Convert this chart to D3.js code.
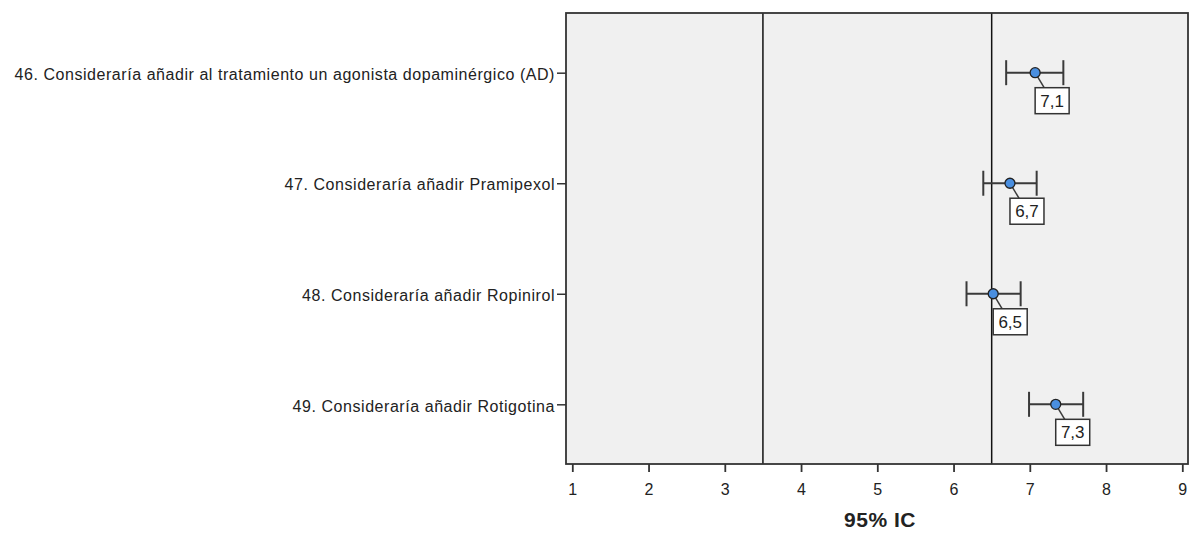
<!DOCTYPE html>
<html>
<head>
<meta charset="utf-8">
<script src="https://cdn.jsdelivr.net/npm/d3@7/dist/d3.min.js"></script>
<style>
  html, body { margin: 0; padding: 0; background: #ffffff; }
  svg { display: block; font-family: "Liberation Sans", Arial, sans-serif; }
</style>
</head>
<body>
<svg id="chart" width="1192" height="533"></svg>
<script>
// Items (one row each)
const categories = [
  "46. Consideraría añadir al tratamiento un agonista dopaminérgico (AD)",
  "47. Consideraría añadir Pramipexol",
  "48. Consideraría añadir Ropinirol",
  "49. Consideraría añadir Rotigotina"
];
// Means and 95% confidence limits
const means = [7.07, 6.74, 6.52, 7.34];
const lower = [6.69, 6.39, 6.17, 6.99];
const upper = [7.44, 7.09, 6.88, 7.70];
// Reference lines on the scale
const refLines = [3.5, 6.5];
const xTicks = [1, 2, 3, 4, 5, 6, 7, 8, 9];
const xTitle = "95% IC";

const rows = categories.map((c, i) => ({
  cat: c, mean: means[i], lo: lower[i], hi: upper[i]
}));

const svg = d3.select("#chart");
const box = { left: 566, right: 1188, top: 13, bottom: 464 };

const x = d3.scaleLinear().domain([1, 9]).range([572.3, 1182.3]);
const y = d3.scalePoint().domain(categories).range([box.top, box.bottom]).padding(0.54);

// Plot area
svg.append("rect")
  .attr("x", box.left).attr("y", box.top)
  .attr("width", box.right - box.left).attr("height", box.bottom - box.top)
  .attr("fill", "#f0f0f0");

// Reference lines
svg.selectAll("line.ref").data(refLines).join("line")
  .attr("class", "ref")
  .attr("x1", d => x(d)).attr("x2", d => x(d))
  .attr("y1", box.top).attr("y2", box.bottom)
  .attr("stroke", "#111").attr("stroke-width", 1.5);

// Frame
svg.append("rect")
  .attr("x", box.left).attr("y", box.top)
  .attr("width", box.right - box.left).attr("height", box.bottom - box.top)
  .attr("fill", "none").attr("stroke", "#333").attr("stroke-width", 1.8);

// Bottom axis
const xAxis = d3.axisBottom(x).tickValues(xTicks).tickSize(8).tickPadding(12).tickFormat(d3.format("d"));
const gx = svg.append("g").attr("transform", `translate(0,${box.bottom})`).call(xAxis);
gx.select(".domain").remove();
gx.selectAll(".tick line").attr("stroke", "#333").attr("stroke-width", 1.8);
gx.selectAll(".tick text").attr("fill", "#222").attr("font-size", 16)
  .attr("font-family", "Liberation Sans, Arial, sans-serif");

svg.append("text")
  .attr("x", (box.left + box.right) / 2 + 3).attr("y", 527)
  .attr("text-anchor", "middle")
  .attr("font-size", 21).attr("font-weight", "bold").attr("fill", "#222")
  .attr("letter-spacing", 0.5)
  .text(xTitle);

// Left axis (category labels)
const yAxis = d3.axisLeft(y).tickSize(9).tickPadding(2);
const gy = svg.append("g").attr("transform", `translate(${box.left},0)`).call(yAxis);
gy.select(".domain").remove();
gy.selectAll(".tick line").attr("stroke", "#333").attr("stroke-width", 1.5);
gy.selectAll(".tick text").attr("fill", "#222").attr("font-size", 16)
  .attr("letter-spacing", 0.55)
  .attr("font-family", "Liberation Sans, Arial, sans-serif")
  .attr("dy", "0.42em");

// Error bars
const capH = 12.5;
const g = svg.append("g");
const rowG = g.selectAll("g.row").data(rows).join("g").attr("class", "row");

rowG.append("line")
  .attr("x1", d => x(d.lo)).attr("x2", d => x(d.hi))
  .attr("y1", d => y(d.cat)).attr("y2", d => y(d.cat))
  .attr("stroke", "#3a3a3a").attr("stroke-width", 2);
rowG.append("line")
  .attr("x1", d => x(d.lo)).attr("x2", d => x(d.lo))
  .attr("y1", d => y(d.cat) - capH).attr("y2", d => y(d.cat) + capH)
  .attr("stroke", "#3a3a3a").attr("stroke-width", 2);
rowG.append("line")
  .attr("x1", d => x(d.hi)).attr("x2", d => x(d.hi))
  .attr("y1", d => y(d.cat) - capH).attr("y2", d => y(d.cat) + capH)
  .attr("stroke", "#3a3a3a").attr("stroke-width", 2);

// Value labels with leader lines
const fmt = v => d3.format(".1f")(v).replace(".", ",");
const lab = { dx: 0, dy: 15, w: 34, h: 26 };
rowG.append("line")
  .attr("x1", d => x(d.mean)).attr("y1", d => y(d.cat))
  .attr("x2", d => x(d.mean) + lab.dx + 9).attr("y2", d => y(d.cat) + lab.dy)
  .attr("stroke", "#3a3a3a").attr("stroke-width", 1.5);
rowG.append("rect")
  .attr("x", d => x(d.mean) + lab.dx).attr("y", d => y(d.cat) + lab.dy)
  .attr("width", lab.w).attr("height", lab.h)
  .attr("fill", "#ffffff").attr("stroke", "#333").attr("stroke-width", 1.5);
rowG.append("text")
  .attr("x", d => x(d.mean) + lab.dx + lab.w / 2)
  .attr("y", d => y(d.cat) + lab.dy + lab.h / 2)
  .attr("dy", "0.36em")
  .attr("text-anchor", "middle").attr("font-size", 17).attr("fill", "#222")
  .text(d => fmt(d.mean));

// Mean markers
rowG.append("circle")
  .attr("cx", d => x(d.mean)).attr("cy", d => y(d.cat)).attr("r", 5)
  .attr("fill", "#4a8fe0").attr("stroke", "#222").attr("stroke-width", 1.3);
</script>
</body>
</html>
